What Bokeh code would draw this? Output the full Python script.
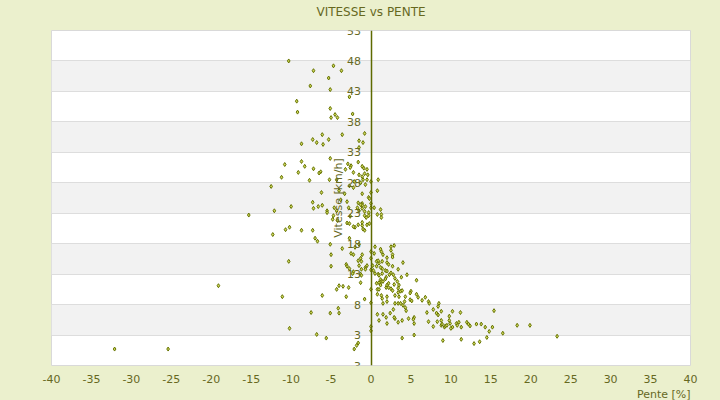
from bokeh.plotting import figure
from bokeh.models import Range1d, FixedTicker, Title, ColumnDataSource
from bokeh.embed import file_html
from bokeh.resources import INLINE

# ---- data: Pente [%] / Vitesse [km/h] ----
pente = [
    -10.3, -4.7, -7.2, -3.7, -5.3, -7.6, -5.1, -2.7, -9.3, -5.1, -9.2, -2.3, -4.5, -5.0, -4.2,
    -0.8, -3.6, -6.1, -7.3, -6.8, -5.3, -6.0, -8.7, -1.5, -1.0, -1.5,
    -5.1, -8.7, -10.8, -8.3, -7.2, -9.1, -6.3, -6.5, -11.2, -7.7, -5.2, -12.5, -6.2,
    -1.6, -2.9, -2.5, -2.6, -1.1, -0.9, -0.5, -3.2, -2.2, -1.5, -0.8, -0.4, -1.1,
    0.9, -4.3, -0.5, -1.0, -2.1, -0.7, -2.7, -2.2, 0.8, -4.0, -1.1, -0.3, -3.8, -3.3, -1.3, -0.2,
    -3.0, -1.6, -1.1, 0.4, 1.2, 1.3, -1.7, -1.1, -0.8, -1.5, -0.3, -4.6, -4.3, -2.8, -5.5, -4.7, -2.6, -0.6,
    -15.3, -12.1, -10.0, -7.3, -7.2, -6.6, -6.1, -5.5,
    -12.3, -10.7, -10.2, -8.7, -7.3, -7.0, -6.7, -5.1, -10.3, -5.0, -5.0,
    -19.1, -11.1, -6.1, -4.3, -4.0, -3.5, -2.8, -3.1, -7.5, -5.1, -4.1, -4.0, -10.2, -6.8, -5.6, -1.6, -2.1, -1.8, -32.1, -25.4,
    -3.6, -3.1, -2.7, -2.5, -2.2, -1.6, -1.5, -1.3, -0.8, -0.7, -0.5, -1.1, -1.5, -2.7, -2.0, -0.8, -3.0, -2.7, -2.2, -1.6,
    -1.1, -0.5, -0.2, -0.8, -0.3, -1.1, -0.7, -1.3, 0.8, 1.3,
    0.4, 0.5, 0.7, 0.2, 0.3, 1.3, 1.5, 1.0, 1.4, 0.9, 2.0, 1.8, 2.0, 1.2, 1.3, 1.5, 1.9, 2.2, 1.3, 1.4,
    2.3, 2.5, 2.8, 3.3, 2.9, 2.5, 2.7, 2.0, 1.5, 1.0, 1.9, 2.4, 2.8, 3.0, 3.4,
    0, 0, 0, 0, 0, 0, 0, 0, 0, 0, 0,
    2.7, 1.4, 4.0, -0.7, 1.2, 2.2, 0.5, 1.0, 1.4, 3.4,
    4.5, 1.9, 1.8, 1.0, 3.0, 3.8, 5.7, 0.7, 2.2, 2.0,
    0.8, 1.0, 2.9, 3.5, 3.4, 2.5, 2.7, 3.7, 3.9, 3.4,
    5.0, 4.9, 2.0, 3.0, 3.5, 4.3, 5.7, 5.9, 6.8, 6.4,
    4.9, 5.1, 7.2, 7.3, 8.5, 8.4, 3.0, 3.4, 4.2, 4.0,
    4.3, 4.4, 0.8, 2.0, 2.9, 3.9, 4.7, 5.4, 5.3, 5.4,
    7.0, 7.2, 7.8, 8.2, 8.4, 7.8, 8.8, 8.3, 8.8, 8.8,
    8.9, 9.2, 9.3, 9.5, 9.8, 9.8, 10.2, 9.9, 10.2, 10.0,
    10.7, 10.8, 11.2, 11.0, 11.3, 12.0, 12.2, 12.4, 13.2, 13.8,
    14.3, 14.8, 15.2, 15.4, 16.5, 18.3, 19.9, 23.3,
    3.9, 5.4, 9.0, 11.3, 12.9, 13.6, 14.5,
    -4.8, -4.2, -1.1, -1.0, -2.0, -1.3, -1.2, -3.0, -1.2, -1.3, -1.2, -2.2, -2.3,
    1.2, 2.5, 0.9, 0.7, 2.7, 1.2, 0.8, 1.5, 2.0, 3.7,
]
vitesse = [
    48.0, 47.2, 46.4, 46.4, 45.2, 43.9, 43.3, 42.1, 41.4, 40.2, 39.6, 39.3, 39.2, 38.7, 38.7,
    36.1, 35.9, 35.9, 35.1, 34.6, 35.1, 34.3, 34.4, 34.9, 34.6, 33.8,
    32.0, 31.5, 31.0, 30.7, 30.3, 29.7, 29.8, 29.6, 28.9, 28.4, 28.5, 27.4, 26.4,
    31.4, 31.1, 30.8, 30.5, 30.7, 30.4, 30.2, 30.2, 29.7, 29.3, 29.5, 29.3, 29.0,
    28.5, 28.5, 28.5, 28.5, 28.2, 27.7, 27.5, 27.2, 26.7, 26.7, 26.2, 25.6, 25.2, 26.2, 28.0, 25.4,
    24.9, 24.7, 24.6, 23.9, 23.6, 22.8, 23.9, 23.8, 23.3, 23.4, 23.1, 23.9, 23.4, 23.9, 23.4, 22.6, 22.5, 22.3,
    22.7, 23.4, 24.1, 24.8, 23.8, 24.1, 24.3, 23.1,
    19.5, 20.3, 20.7, 20.2, 20.2, 18.9, 18.4, 17.9, 15.1, 16.2, 14.3,
    11.1, 9.3, 9.5, 10.5, 11.1, 11.0, 10.8, 9.3, 6.7, 6.6, 7.4, 6.6, 4.1, 3.1, 2.5, 1.7, 0.7, 1.3, 0.7, 0.7,
    17.2, 14.6, 13.9, 16.4, 16.2, 15.2, 14.4, 11.6, 8.9, 14.1, 14.4, 16.2, 17.9, 18.9, 20.7, 20.2, 21.4, 21.3, 20.8, 21.1,
    21.0, 21.1, 21.3, 22.6, 22.6, 24.3, 24.1, 24.4, 22.8, 22.3,
    16.4, 17.5, 15.1, 14.4, 13.6, 16.7, 16.2, 14.8, 13.9, 13.0, 14.9, 13.6, 13.5, 12.1, 11.8, 11.8, 10.8, 10.8, 9.5, 9.0,
    12.9, 13.2, 12.9, 11.8, 17.7, 16.9, 16.2, 15.7, 6.4, 5.4, 5.9, 6.6, 7.2, 5.7, 5.1,
    28.2, 26.4, 24.6, 23.9, 16.7, 15.6, 13.7, 10.5, 8.3, 4.4, 3.7,
    15.8, 15.1, 14.9, 13.8, 14.1, 14.6, 13.1, 12.8, 13.1, 13.8,
    12.9, 12.5, 12.2, 11.6, 12.3, 12.5, 12.0, 11.5, 11.5, 11.2,
    10.5, 10.5, 11.3, 11.2, 10.7, 10.6, 10.3, 10.2, 10.3, 10.0,
    10.2, 9.9, 9.3, 9.5, 9.3, 9.3, 9.7, 9.2, 9.2, 8.7,
    8.8, 8.6, 8.5, 8.2, 8.2, 7.7, 8.2, 8.2, 8.5, 7.9,
    7.5, 7.0, 6.4, 4.9, 5.9, 5.4, 5.7, 5.9, 5.6, 4.9,
    6.7, 5.2, 7.2, 6.6, 6.3, 4.4, 6.9, 5.2, 5.4, 4.6,
    4.8, 4.3, 4.5, 4.6, 5.4, 6.1, 6.9, 4.9, 4.3, 4.1,
    4.9, 4.6, 6.7, 5.1, 4.3, 5.1, 4.8, 4.5, 4.8, 4.8,
    4.3, 3.6, 4.3, 7.0, 3.3, 4.6, 4.6, 2.8,
    2.5, 3.0, 2.1, 2.3, 1.6, 1.9, 2.6,
    22.0, 21.8, 21.5, 20.4, 17.4, 15.6, 15.1, 14.3, 13.8, 13.0, 12.8, 13.4, 13.1,
    17.1, 17.5, 15.2, 14.3, 14.3, 11.2, 9.7, 8.2, 8.5, 8.2,
]
n = min(len(pente), len(vitesse))
pente, vitesse = pente[:n], vitesse[:n]

x_ticks = [-40, -35, -30, -25, -20, -15, -10, -5, 0, 5, 10, 15, 20, 25, 30, 35, 40]
x_tick_labels = ["-40", "-35", "-30", "-25", "-20", "-15", "-10", "-5", "0", "5", "10",
                 "15", "20", "25", "30", "35", "40"]
y_ticks = [-2, 3, 8, 13, 18, 23, 28, 33, 38, 43, 48, 53]
y_tick_labels = ["3", "3", "8", "13", "18", "23", "28", "33", "38", "43", "48", "53"]

title_text = "VITESSE vs PENTE"
x_title = "Pente [%]"
y_title = "Vitesse [km/h]"

# ---- styling ----
BG = "#ebf0cd"
TXT = "#66681f"
AXIS = "#5e6a00"
FONT = "DejaVu Sans"

p = figure(width=720, height=400, output_backend="svg", toolbar_location=None,
           x_range=Range1d(-40, 40), y_range=Range1d(-2, 53),
           min_border_left=51, min_border_right=30, min_border_top=30, min_border_bottom=0)

p.border_fill_color = BG
p.background_fill_color = "white"
p.outline_line_color = "#d9d9d9"
p.outline_line_width = 1

# default title hidden; spacer (closest to frame) then the real title above it
p.title.visible = False
p.add_layout(Title(text=" ", text_font=FONT, text_font_size="9px", standoff=0,
                   text_color=BG), "above")
p.add_layout(Title(text=title_text, align="center", text_font=FONT, text_font_size="12px",
                   text_font_style="normal", text_color=TXT, standoff=0), "above")

# x axis
xa = p.xaxis[0]
xa.ticker = FixedTicker(ticks=x_ticks)
xa.major_label_overrides = {t: l for t, l in zip(x_ticks, x_tick_labels)}
xa.axis_line_color = None
xa.major_tick_line_color = None
xa.minor_tick_line_color = None
xa.major_label_text_font = FONT
xa.major_label_text_font_size = "11px"
xa.major_label_text_color = TXT
xa.major_label_standoff = 3

p.add_layout(Title(text=x_title, align="right", text_font=FONT, text_font_size="11px",
                   text_font_style="normal", text_color=TXT, standoff=0), "below")

# y axis drawn at x = 0
ya = p.yaxis[0]
ya.fixed_location = 0
ya.ticker = FixedTicker(ticks=y_ticks)
ya.major_label_overrides = {t: l for t, l in zip(y_ticks, y_tick_labels)}
ya.axis_line_color = AXIS
ya.axis_line_width = 1.5
ya.major_tick_line_color = None
ya.minor_tick_line_color = None
ya.major_label_text_font = FONT
ya.major_label_text_font_size = "11px"
ya.major_label_text_color = TXT
ya.major_label_standoff = 4
ya.axis_label = y_title
ya.axis_label_text_font = FONT
ya.axis_label_text_font_size = "11px"
ya.axis_label_text_font_style = "normal"
ya.axis_label_text_color = TXT
ya.axis_label_standoff = 0

# grid
p.xgrid.visible = False
p.ygrid.ticker = FixedTicker(ticks=y_ticks)
p.ygrid.grid_line_color = "#dddddd"
p.ygrid.grid_line_width = 1
p.ygrid.band_fill_color = "#f2f2f2"
p.ygrid.band_fill_alpha = 1

src = ColumnDataSource(data=dict(pente=pente, vitesse=vitesse))
p.scatter("pente", "vitesse", source=src, marker="diamond", size=4,
          line_color="#667300", line_width=1, fill_color="#cfd85a")

html = file_html(p, INLINE, title=title_text)
html = html.replace("<head>", "<head><style>html,body{background:%s;}</style>" % BG, 1)
open("out.html", "w").write(html)
